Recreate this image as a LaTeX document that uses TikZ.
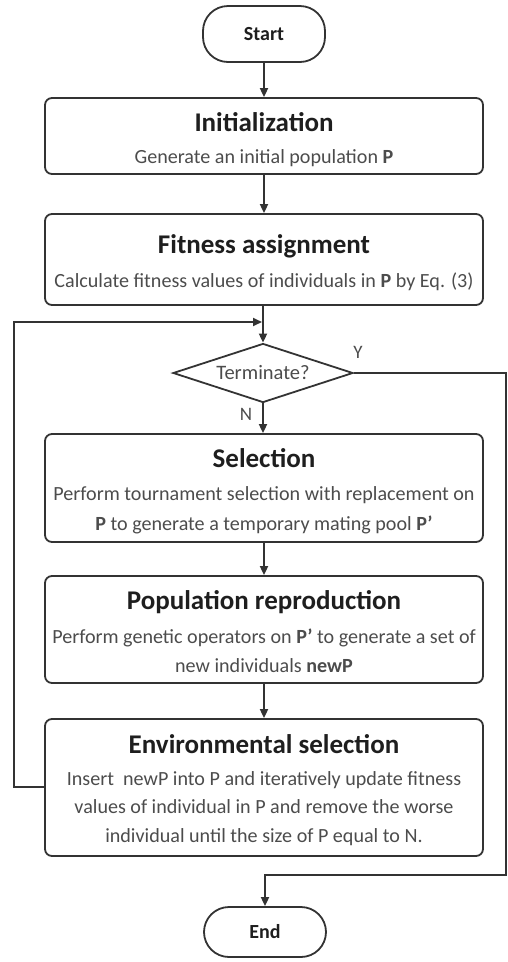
\documentclass[tikz,border=0pt]{standalone}
\usepackage{fontspec}
\setmainfont{Carlito}
\usetikzlibrary{shapes.geometric,arrows.meta}
\definecolor{linegray}{HTML}{333333}
\definecolor{bodygray}{HTML}{4c4c4c}
\definecolor{titleblack}{HTML}{1e1e1e}
\newcommand{\prm}{\symbol{39}}
\begin{document}
\begin{tikzpicture}[x=1pt,y=-1pt,
  flow/.style={-{Triangle[length=9pt,width=8pt]}, draw=linegray, line width=1.8pt},
  pill/.style={draw=linegray, line width=1.8pt, rounded corners=25pt,
    minimum width=122pt, inner sep=0pt, font=\fontsize{20}{22}\selectfont\bfseries, text=titleblack},
  stagebox/.style={draw=linegray, line width=1.8pt, rounded corners=7pt,
    minimum width=438pt, inner sep=0pt},
  ttl/.style={anchor=base, inner sep=0pt, font=\fontsize{27}{32}\selectfont\bfseries, text=titleblack},
  bdy/.style={anchor=base, inner sep=0pt, font=\fontsize{20.1}{24}\selectfont, text=bodygray},
  decision/.style={draw=linegray, line width=1.8pt, shape=diamond, aspect=3,
    minimum width=180pt, minimum height=59pt, inner sep=0pt,
    font=\fontsize{20.5}{22}\selectfont, text=bodygray},
  branch/.style={anchor=base, inner sep=0pt, font=\fontsize{19}{22}\selectfont, text=bodygray}
]
\path[use as bounding box] (0,0) rectangle (508,962);

% terminals
\node[pill, minimum height=56pt] (start) at (264,34) {Start};
\node[pill, minimum height=50pt] (end) at (265,932) {End};

% stage boxes
\node[stagebox, minimum height=76pt]  (init) at (264,136) {};
\node[stagebox, minimum height=91pt]  (fit)  at (264,259.5) {};
\node[stagebox, minimum height=108pt] (sel)  at (264,488) {};
\node[stagebox, minimum height=107pt] (rep)  at (264,629.5) {};
\node[stagebox, minimum height=137pt] (env)  at (264,787.5) {};

\node[decision] (term) at (263,373) {Terminate?};

% stage texts
\node[ttl] (initT) at (264,131) {Initialization};
\node[bdy] (initB) at (264,163) {Generate an initial population \textbf{P}};

\node[ttl] (fitT) at (264,253) {Fitness assignment};
\node[bdy] (fitB) at (264,287) {Calculate fitness values of individuals in \textbf{P} by Eq. (3)};

\node[ttl] (selT)  at (264,467) {Selection};
\node[bdy] (selB1) at (264,500) {Perform tournament selection with replacement on};
\node[bdy] (selB2) at (264,530) {\textbf{P} to generate a temporary mating pool \textbf{P\prm}};

\node[ttl] (repT)  at (264,609) {Population reproduction};
\node[bdy] (repB1) at (264,643) {Perform genetic operators on \textbf{P\prm} to generate a set of};
\node[bdy] (repB2) at (264,672) {new individuals \textbf{newP}};

\node[ttl] (envT)  at (264,753) {Environmental selection};
\node[bdy] (envB1) at (264,785) {Insert\ \ newP into P and iteratively update fitness};
\node[bdy] (envB2) at (264,813) {values of individual in P and remove the worse};
\node[bdy] (envB3) at (264,842) {individual until the size of P equal to N.};

% main sequence
\draw[flow] (start) -- (init);
\draw[flow] (init) -- (fit);
\draw[flow] (fit.south -| term.north) -- (term.north);
\draw[flow] (term.south) -- (term.south |- sel.north);
\draw[flow] (sel) -- (rep);
\draw[flow] (rep) -- (env);

% loop back to the termination test
\coordinate (loopin) at (262,322);
\draw[flow] (env.west |- 0,787) -- (14,787) -- (14,322) -- (loopin);

% exit branch
\draw[flow] (term.east) -- (506,373) -- (506,875) -- (265,875) -- (end.north);

\node[branch] (ylab) at (358,358) {Y};
\node[branch] (nlab) at (246,420) {N};
\end{tikzpicture}
\end{document}
